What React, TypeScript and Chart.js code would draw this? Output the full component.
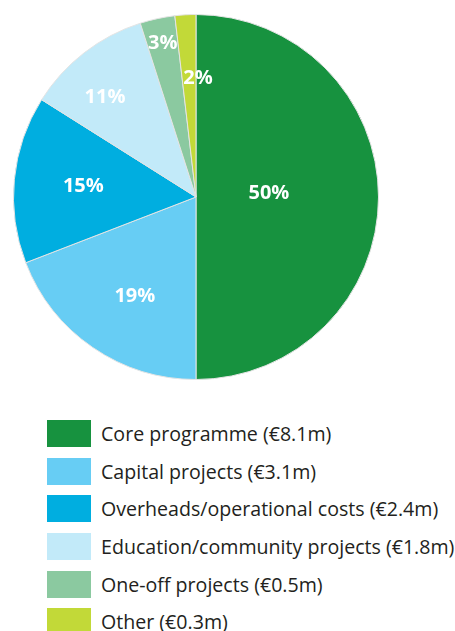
import React, { useEffect, useRef } from "react";
import { Chart, registerables } from "chart.js";

Chart.register(...registerables);

const categories = [
  "Core programme",
  "Capital projects",
  "Overheads/operational costs",
  "Education/community projects",
  "One-off projects",
  "Other",
];
const amounts = [8.1, 3.1, 2.4, 1.8, 0.5, 0.3];
const percentLabels = ["50%", "19%", "15%", "11%", "3%", "2%"];
const colors = ["#17923f", "#67cdf4", "#00aee0", "#c2eaf9", "#8bc9a0", "#c2d938"];

// label placement: fraction of radius, and angle shift (radians)
const labelRadius = [0.4, 0.64, 0.62, 0.74, 0.86, 0.65];
const labelAngleShift = [-0.05, -0.05, 0, -0.08, 0, 0.075];

const FONT = "'Open Sans', 'Noto Sans', sans-serif";

const labelPlugin = {
  id: "sliceLabels",
  afterDatasetsDraw(chart: any) {
    const { ctx } = chart;
    const meta = chart.getDatasetMeta(0);
    ctx.save();
    ctx.fillStyle = "#ffffff";
    ctx.font = `bold 20px ${FONT}`;
    ctx.textAlign = "center";
    ctx.textBaseline = "middle";
    meta.data.forEach((arc: any, i: number) => {
      const p = arc.getProps(["x", "y", "startAngle", "endAngle", "outerRadius"], true);
      const mid = (p.startAngle + p.endAngle) / 2 + labelAngleShift[i];
      const r = p.outerRadius * labelRadius[i];
      ctx.fillText(percentLabels[i], p.x + Math.cos(mid) * r, p.y + Math.sin(mid) * r);
    });
    ctx.restore();
  },
};

export default function App() {
  const ref = useRef<HTMLCanvasElement | null>(null);
  useEffect(() => {
    document.body.style.margin = "0";
    const chart = new Chart(ref.current as HTMLCanvasElement, {
      type: "pie",
      data: {
        labels: categories,
        datasets: [
          {
            data: amounts,
            backgroundColor: colors,
            borderColor: "#e4e4e4",
            borderWidth: 1,
            hoverOffset: 0,
          },
        ],
      },
      options: {
        responsive: false,
        animation: false,
        layout: { padding: 13 },
        plugins: { legend: { display: false }, tooltip: { enabled: false } },
      },
      plugins: [labelPlugin],
    });
    return () => chart.destroy();
  }, []);

  return (
    <div style={{ position: "relative", width: 455, height: 631, background: "#fff", overflow: "hidden" }}>
      <canvas ref={ref} width={392} height={394} style={{ position: "absolute", left: 0, top: 0 }} />
      <div style={{ position: "absolute", left: 47, top: 415 }}>
        {categories.map((c, i) => (
          <div key={c} style={{ display: "flex", alignItems: "center", height: 37.6 }}>
            <div style={{ width: 44, height: 27, background: colors[i], marginRight: 10, flex: "none" }} />
            <span style={{ fontFamily: FONT, fontSize: 19.6, color: "#231f20", whiteSpace: "nowrap" }}>
              {`${c} (€${amounts[i].toFixed(1)}m)`}
            </span>
          </div>
        ))}
      </div>
    </div>
  );
}
